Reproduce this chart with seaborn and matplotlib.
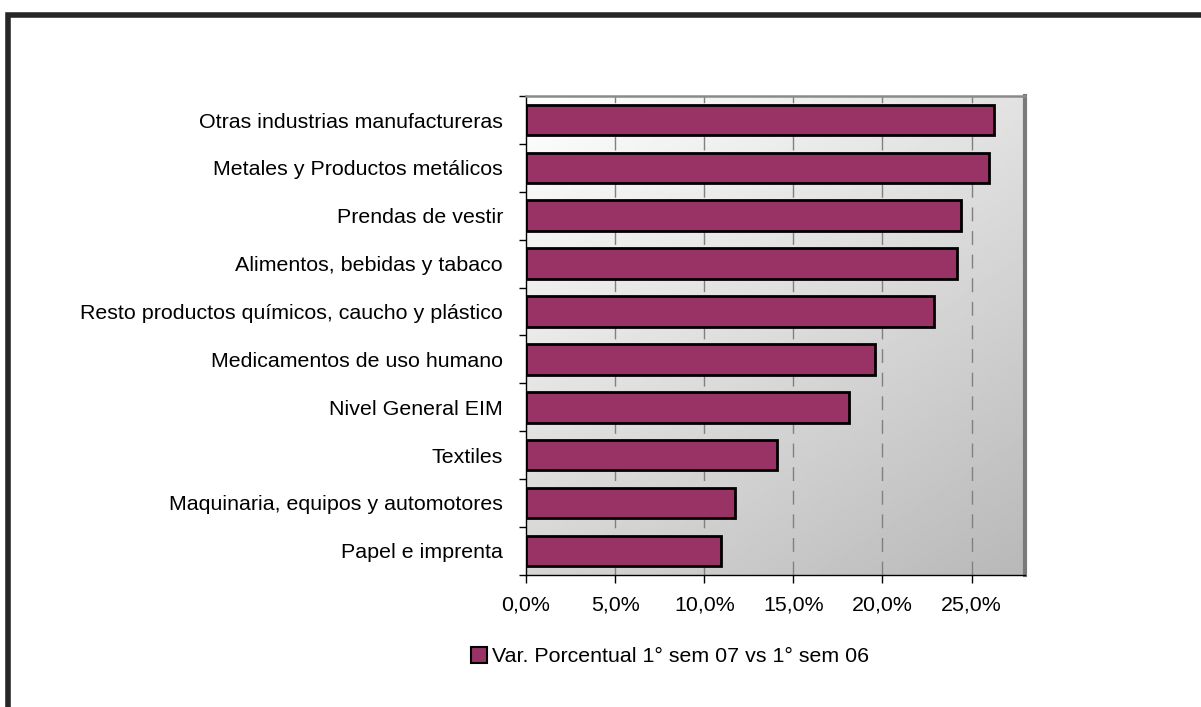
import matplotlib
matplotlib.use("Agg")
import matplotlib.pyplot as plt
import matplotlib.ticker as mticker
from matplotlib.patches import Patch, Rectangle
import numpy as np
import pandas as pd
import seaborn as sns

categories = [
    "Otras industrias manufactureras",
    "Metales y Productos metálicos",
    "Prendas de vestir",
    "Alimentos, bebidas y tabaco",
    "Resto productos químicos, caucho y plástico",
    "Medicamentos de uso humano",
    "Nivel General EIM",
    "Textiles",
    "Maquinaria, equipos y automotores",
    "Papel e imprenta",
]
values = [26.26, 26.0, 24.43, 24.2, 22.9, 19.6, 18.1, 14.1, 11.7, 10.96]
series_name = "Var. Porcentual 1° sem 07 vs 1° sem 06"
xticks = [0, 5, 10, 15, 20, 25]

df = pd.DataFrame({"sector": categories, "var": values})

sns.set_theme(style="white")
plt.rcParams["font.family"] = ["Liberation Sans", "DejaVu Sans"]
plt.rcParams["text.color"] = "black"

fs = 15.4

fig = plt.figure(figsize=(12.01, 7.07), dpi=100)
ax = fig.add_axes([0.438, 0.187, 0.4155, 0.677])

# diagonal gradient background
u = np.linspace(0, 1, 200)
v = np.linspace(0, 1, 200)
U, V = np.meshgrid(u, v)
grad = (255 - 29 * U - 42 * V) / 255.0
ax.imshow(grad, cmap="gray", vmin=0, vmax=1, extent=[0, 1, 0, 1],
          transform=ax.transAxes, aspect="auto", origin="upper", zorder=0)

for t in xticks[1:]:
    ax.axvline(t, color="#808080", lw=1.0, ls=(0, (10, 7)), zorder=1)

sns.barplot(data=df, x="var", y="sector", orient="h", color="#993366",
            saturation=1, edgecolor="black", linewidth=2.0, width=0.64,
            ax=ax, zorder=2)

ax.set_xlim(0, 28)
ax.set_ylim(9.5, -0.5)
ax.set_xlabel("")
ax.set_ylabel("")
ax.set_xticks(xticks)
ax.xaxis.set_major_formatter(mticker.FuncFormatter(
    lambda x, p: f"{x:.1f}%".replace(".", ",")))
ax.set_yticks(range(len(categories)))
ax.set_yticklabels(categories)
ax.set_yticks(np.arange(-0.5, len(categories), 1.0), minor=True)
ax.tick_params(axis="y", which="major", length=0, pad=16.5, labelsize=fs,
               colors="black")
ax.tick_params(axis="y", which="minor", left=True, length=5, width=1,
               color="black", direction="out")
ax.tick_params(axis="x", which="major", bottom=True, length=6, width=1,
               color="black", direction="out", pad=9, labelsize=fs,
               labelcolor="black")

ax.spines["left"].set_color("black")
ax.spines["left"].set_linewidth(1.0)
ax.spines["bottom"].set_color("black")
ax.spines["bottom"].set_linewidth(1.0)
ax.spines["top"].set_color("#8a8a8a")
ax.spines["top"].set_linewidth(1.8)
ax.spines["right"].set_color("#7a7a7a")
ax.spines["right"].set_linewidth(3.0)
for s in ax.spines.values():
    s.set_zorder(5)

leg = fig.legend(handles=[Patch(facecolor="#993366", edgecolor="black", lw=1.5,
                                label=series_name)],
                 loc="center", bbox_to_anchor=(0.558, 0.071), frameon=False,
                 fontsize=fs, handlelength=0.72, handleheight=0.72,
                 handletextpad=0.25, borderaxespad=0)
for txt in leg.get_texts():
    txt.set_color("black")

# outer frame (top and left visible)
fig.patches.append(Rectangle((7.5 / 1201, -0.5), 2.0, 1.5 - 14.5 / 707,
                             transform=fig.transFigure, fill=False,
                             edgecolor="#262626", lw=4.0))

fig.savefig("out.png", dpi=100)
